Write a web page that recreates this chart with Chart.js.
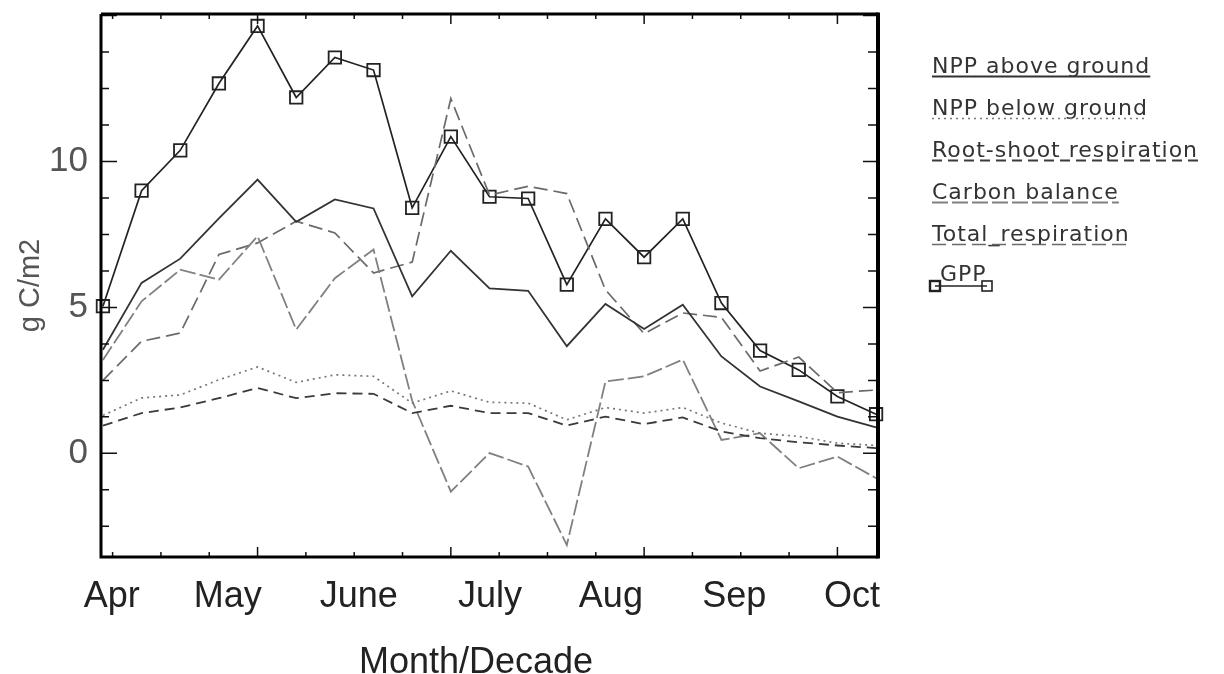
<!DOCTYPE html>
<html><head><meta charset="utf-8">
<script src="https://cdn.jsdelivr.net/npm/chart.js@4.4.1/dist/chart.umd.min.js"></script>
<style>html,body{margin:0;padding:0;background:#fff;overflow:hidden}</style>
</head><body>
<canvas id="c" width="1224" height="674"></canvas>
<script>
// ---- data (decade index 0..20, Apr .. Oct) ----
const decades = [0,1,2,3,4,5,6,7,8,9,10,11,12,13,14,15,16,17,18,19,20];
const monthLabels = ['Apr','May','June','July','Aug','Sep','Oct'];
const monthTickValues = [0.23,3.23,6.62,10.01,13.14,16.33,19.38];
const yTickValues = [0,5,10];
const seriesNames = ['NPP above ground','NPP below ground','Root-shoot respiration','Carbon balance','Total_respiration','GPP'];

const nppAbove = [3.55,5.84,6.67,8.05,9.38,7.93,8.70,8.39,5.38,6.94,5.65,5.57,3.67,5.12,4.26,5.09,3.32,2.29,1.78,1.26,0.89];
const nppBelow = [1.30,1.90,2.00,2.52,2.96,2.43,2.69,2.64,1.72,2.14,1.75,1.72,1.15,1.57,1.38,1.57,1.04,0.69,0.58,0.35,0.27];
const rootShoot = [0.95,1.38,1.57,1.89,2.24,1.89,2.06,2.04,1.38,1.63,1.38,1.38,0.95,1.26,1.00,1.23,0.75,0.52,0.38,0.27,0.18];
const carbonBal = [3.20,5.21,6.29,5.95,7.44,4.24,6.00,6.98,1.80,-1.31,0.01,-0.45,-3.14,2.46,2.64,3.21,0.46,0.69,-0.51,-0.11,-0.85];
const totalResp = [2.50,3.84,4.12,6.81,7.21,7.95,7.55,6.18,6.55,12.15,8.85,9.15,8.90,5.60,4.10,4.81,4.66,2.82,3.30,2.08,2.17];
const gpp = [5.04,9.00,10.38,12.67,14.64,12.19,13.56,13.13,8.41,10.85,8.79,8.73,5.78,8.03,6.72,8.03,5.15,3.52,2.86,1.95,1.34];

const pts = arr => decades.map((d,i)=>({x:d,y:arr[i]}));

const styles = [
  {borderColor:'#333', borderWidth:1.8, borderDash:[]},
  {borderColor:'#777', borderWidth:1.7, borderDash:[2,4]},
  {borderColor:'#3a3a3a', borderWidth:1.8, borderDash:[10,6]},
  {borderColor:'#808080', borderWidth:1.8, borderDash:[16,4]},
  {borderColor:'#6a6a6a', borderWidth:1.7, borderDash:[14,6]},
  {borderColor:'#222', borderWidth:1.7, borderDash:[]}
];
const seriesData = [nppAbove,nppBelow,rootShoot,carbonBal,totalResp,gpp];

const datasets = seriesData.map((arr,k)=>Object.assign({
  label: seriesNames[k],
  data: pts(arr),
  pointRadius: k===5 ? 8.8 : 0,
  pointStyle: 'rect',
  pointBorderWidth: 1.8,
  pointBorderColor: '#222',
  pointBackgroundColor: 'rgba(0,0,0,0)',
  tension: 0,
  clip: false,
  fill: false
}, styles[k]));

// frame + inward ticks + legend + x title
const framePlugin = {
  id:'frame',
  afterDatasetsDraw(chart){
    const {ctx, chartArea:a, scales:{x,y}} = chart;
    ctx.save();
    ctx.strokeStyle = '#111';
    ctx.lineWidth = 1.5;
    for (let v = 0.25; v <= x.max + 1e-6; v += 1.25) {
      const px = x.getPixelForValue(v);
      const major = Math.abs(((v - 4) / 5) - Math.round((v - 4) / 5)) < 1e-6;
      const L = major ? 10 : 5;
      ctx.beginPath();
      ctx.moveTo(px, a.bottom); ctx.lineTo(px, a.bottom - L);
      ctx.moveTo(px, a.top); ctx.lineTo(px, a.top + L);
      ctx.stroke();
    }
    for (let v = -2.5; v <= y.max + 1e-6; v += 1.25) {
      const py = y.getPixelForValue(v);
      const major = Math.abs(v/5 - Math.round(v/5)) < 1e-6;
      ctx.beginPath();
      ctx.moveTo(a.left, py); ctx.lineTo(a.left + (major ? 16 : 8), py);
      ctx.moveTo(a.right, py); ctx.lineTo(a.right - (major ? 15 : 10), py);
      ctx.stroke();
    }
    ctx.strokeStyle = '#000';
    ctx.lineWidth = 3;
    ctx.beginPath();
    ctx.moveTo(a.left, a.top); ctx.lineTo(a.right, a.top);
    ctx.moveTo(a.left, a.top); ctx.lineTo(a.left, a.bottom); ctx.lineTo(a.right, a.bottom);
    ctx.stroke();
    ctx.lineWidth = 4;
    ctx.beginPath(); ctx.moveTo(a.right, a.top - 1.5); ctx.lineTo(a.right, a.bottom + 1.5); ctx.stroke();
    ctx.restore();
  },
  afterDraw(chart){
    const ctx = chart.ctx;
    ctx.save();
    ctx.font = '36px "Liberation Sans", Arial, sans-serif';
    ctx.fillStyle = '#222';
    ctx.textAlign = 'center';
    ctx.textBaseline = 'alphabetic';
    ctx.fillText('Month/Decade', 476, 673);
    ctx.font = '22px "DejaVu Sans", sans-serif';
    ctx.letterSpacing = '1px';
    ctx.textAlign = 'left';
    const x0 = 932, base0 = 73, step = 42;
    chart.data.datasets.forEach((ds,k)=>{
      const yb = base0 + k*step;
      ctx.fillStyle = '#333';
      if (k < 5) {
        ctx.fillText(ds.label, x0, yb);
        const w = ctx.measureText(ds.label).width;
        ctx.strokeStyle = ds.borderColor;
        ctx.lineWidth = ds.borderWidth;
        ctx.setLineDash(ds.borderDash || []);
        ctx.beginPath(); ctx.moveTo(x0, yb + 3.5); ctx.lineTo(x0 + w, yb + 3.5); ctx.stroke();
        ctx.setLineDash([]);
      } else {
        ctx.fillText(ds.label, x0 + 8, yb - 2);
        const ly = yb + 3;
        ctx.strokeStyle = ds.borderColor;
        ctx.lineWidth = 1.6;
        ctx.beginPath(); ctx.moveTo(x0 + 3, ly); ctx.lineTo(x0 + 55, ly); ctx.stroke();
        ctx.lineWidth = 2.4;
        ctx.strokeRect(x0 + 3 - 5, ly - 5, 10, 10);
        ctx.lineWidth = 1.6;
        ctx.strokeRect(x0 + 55 - 5, ly - 5, 10, 10);
      }
    });
    ctx.restore();
  }
};

new Chart(document.getElementById('c'), {
  type:'line',
  data:{datasets},
  options:{
    responsive:false,
    animation:false,
    devicePixelRatio:1,
    layout:{padding:{left:0,right:346,top:14,bottom:0}},
    plugins:{legend:{display:false}, tooltip:{enabled:false}, title:{display:false}},
    scales:{
      x:{
        type:'linear', min:-0.05, max:20.05,
        grid:{display:false, drawTicks:false},
        border:{display:false},
        afterBuildTicks: s => { s.ticks = monthTickValues.map(v=>({value:v})); },
        afterFit: s => { s.height = 117; s.paddingLeft = 0; s.paddingRight = 0; },
        ticks:{
          autoSkip:false, maxRotation:0, padding:18, color:'#222',
          font:{family:'"Liberation Sans", Arial, sans-serif', size:36},
          callback:(v,i)=>monthLabels[i]
        }
      },
      y:{
        type:'linear', min:-3.55, max:15.05,
        grid:{display:false, drawTicks:false},
        border:{display:false},
        afterBuildTicks: s => { s.ticks = yTickValues.map(v=>({value:v})); },
        afterFit: s => { s.width = 101; s.paddingTop = 0; s.paddingBottom = 0; },
        ticks:{
          padding:13, color:'#555',
          font:{family:'"Liberation Sans", Arial, sans-serif', size:35},
          callback:v=>String(v)
        },
        title:{
          display:true, text:'g C/m2', color:'#555',
          font:{family:'"Liberation Sans", Arial, sans-serif', size:29},
          padding:{top:14,bottom:0}
        }
      }
    }
  },
  plugins:[framePlugin]
});
</script>
</body></html>
